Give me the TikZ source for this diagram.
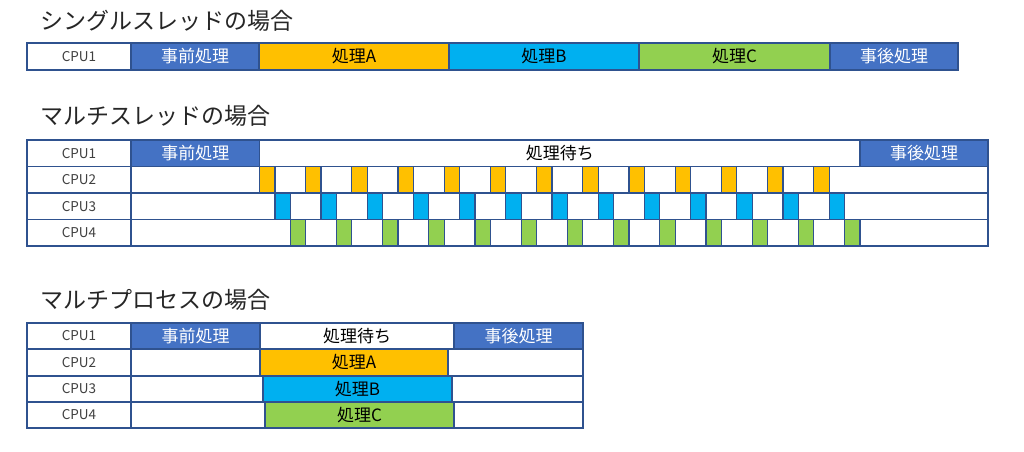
\documentclass[tikz,border=0pt]{standalone}
\usepackage{fontspec}
\setmainfont{Noto Sans CJK JP}
\definecolor{hdrblue}{HTML}{4472C4}
\definecolor{edge}{HTML}{2F528F}
\definecolor{yel}{HTML}{FFC000}
\definecolor{cyn}{HTML}{00B0F0}
\definecolor{grn}{HTML}{92D050}
\definecolor{labelgray}{HTML}{404040}
\definecolor{titlegray}{HTML}{262626}
\newcommand\cellbox[7]{%
 \pgfmathsetmacro\cxa{#2}\pgfmathsetmacro\cya{#3}\pgfmathsetmacro\cxb{#4}\pgfmathsetmacro\cyb{#5}%
 \pgfmathsetmacro\cw{\cxb-\cxa}\pgfmathsetmacro\ch{\cyb-\cya}%
 \node[#6, minimum width=\cw pt, minimum height=\ch pt, anchor=north west] (#1) at (\cxa,\cya) {#7};}
\begin{document}
\begin{tikzpicture}[x=1pt,y=-1pt,
  cell/.style={draw=edge, line width=1.2pt, inner sep=0pt, outer sep=0pt, font=\fontsize{17}{19}\selectfont, text=black},
  cpu/.style={cell, fill=white, font=\fontsize{13.5}{15}\selectfont, text=labelgray},
  pre/.style={cell, fill=hdrblue, text=white},
  idle/.style={cell, fill=white},
  taskA/.style={cell, fill=yel},
  taskB/.style={cell, fill=cyn},
  taskC/.style={cell, fill=grn},
  title/.style={anchor=west, inner sep=0pt, font=\fontsize{23}{26}\selectfont, text=titlegray}]
\useasboundingbox (0,0) rectangle (1024,451);
\fill[white] (0,0) rectangle (1024,451);
\def\slot{15.397}
% ---------- single thread ----------
\node[title] (t1) at (40,21) {シングルスレッドの場合};
\cellbox{s1}{27}{43}{131}{70}{cpu}{CPU1}
\cellbox{spre}{131}{43}{259}{70}{pre}{事前処理}
\cellbox{sA}{259}{43}{449}{70}{taskA}{処理A}
\cellbox{sB}{449}{43}{639}{70}{taskB}{処理B}
\cellbox{sC}{639}{43}{830}{70}{taskC}{処理C}
\cellbox{spost}{830}{43}{958}{70}{pre}{事後処理}
% ---------- multi thread ----------
\node[title] (t2) at (40,116) {マルチスレッドの場合};
\cellbox{m1}{27}{140}{131}{166.5}{cpu}{CPU1}
\cellbox{m2}{27}{166.5}{131}{193}{cpu}{CPU2}
\cellbox{m3}{27}{193}{131}{219.5}{cpu}{CPU3}
\cellbox{m4}{27}{219.5}{131}{246}{cpu}{CPU4}
\cellbox{mpre}{131}{140}{259.5}{166.5}{pre}{事前処理}
\cellbox{mwait}{259.5}{140}{860}{166.5}{idle}{処理待ち}
\cellbox{mpost}{860}{140}{988}{166.5}{pre}{事後処理}
% CPU2
\cellbox{w2s}{131}{166.5}{259.5}{193}{idle}{}
\cellbox{w2e}{259.5+37*\slot}{166.5}{988}{193}{idle}{}
\foreach \k in {0,...,11}{
  \cellbox{w2\k}{259.5+(3*\k+1)*\slot}{166.5}{259.5+(3*\k+3)*\slot}{193}{idle}{}
}
\foreach \k in {0,...,12}{
  \cellbox{ya\k}{259.5+3*\k*\slot}{166.5}{259.5+(3*\k+1)*\slot}{193}{taskA}{}
}
% CPU3
\cellbox{w3s}{131}{193}{259.5+\slot}{219.5}{idle}{}
\cellbox{w3e}{259.5+38*\slot}{193}{988}{219.5}{idle}{}
\foreach \k in {0,...,11}{
  \cellbox{w3\k}{259.5+(3*\k+2)*\slot}{193}{259.5+(3*\k+4)*\slot}{219.5}{idle}{}
}
\foreach \k in {0,...,12}{
  \cellbox{yb\k}{259.5+(3*\k+1)*\slot}{193}{259.5+(3*\k+2)*\slot}{219.5}{taskB}{}
}
% CPU4
\cellbox{w4s}{131}{219.5}{259.5+2*\slot}{246}{idle}{}
\cellbox{w4e}{860}{219.5}{988}{246}{idle}{}
\foreach \k in {0,...,11}{
  \cellbox{w4\k}{259.5+(3*\k+3)*\slot}{219.5}{259.5+(3*\k+5)*\slot}{246}{idle}{}
}
\foreach \k in {0,...,12}{
  \cellbox{yc\k}{259.5+(3*\k+2)*\slot}{219.5}{259.5+(3*\k+3)*\slot}{246}{taskC}{}
}
% ---------- multi process ----------
\node[title] (t3) at (40,300) {マルチプロセスの場合};
\cellbox{p1}{27}{323}{131}{349}{cpu}{CPU1}
\cellbox{p2}{27}{349}{131}{376}{cpu}{CPU2}
\cellbox{p3}{27}{376}{131}{402}{cpu}{CPU3}
\cellbox{p4}{27}{402}{131}{428}{cpu}{CPU4}
\cellbox{ppre}{131}{323}{260}{349}{pre}{事前処理}
\cellbox{pwait}{260}{323}{454}{349}{idle}{処理待ち}
\cellbox{ppost}{454}{323}{583}{349}{pre}{事後処理}
\cellbox{p2s}{131}{349}{260}{376}{idle}{}
\cellbox{pA}{260}{349}{448}{376}{taskA}{処理A}
\cellbox{p2e}{448}{349}{583}{376}{idle}{}
\cellbox{p3s}{131}{376}{263}{402}{idle}{}
\cellbox{pB}{263}{376}{452}{402}{taskB}{処理B}
\cellbox{p3e}{452}{376}{583}{402}{idle}{}
\cellbox{p4s}{131}{402}{265}{428}{idle}{}
\cellbox{pC}{265}{402}{454}{428}{taskC}{処理C}
\cellbox{p4e}{454}{402}{583}{428}{idle}{}
\end{tikzpicture}
\end{document}
